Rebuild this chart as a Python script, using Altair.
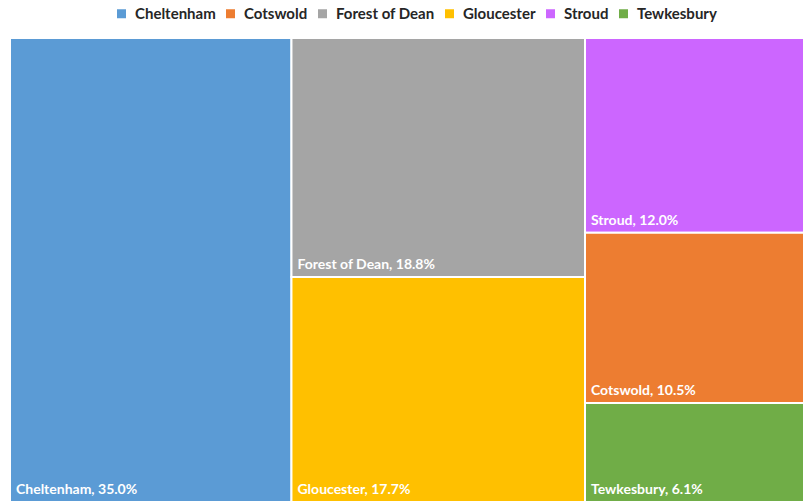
import altair as alt
import pandas as pd

# District shares (percent) of the county total
regions = ["Cheltenham", "Cotswold", "Forest of Dean", "Gloucester", "Stroud", "Tewkesbury"]
shares = [35.0, 10.5, 18.8, 17.7, 12.0, 6.1]
# Treemap grouping: column index and top-to-bottom order within the column
column_of = [0, 2, 1, 1, 2, 2]
order_in_column = [0, 1, 0, 1, 0, 2]
palette = ["#5B9BD5", "#ED7D31", "#A5A5A5", "#FFC000", "#CC66FF", "#70AD47"]

# Slice-and-dice layout: columns sized by their total share, cells stacked by share
df = pd.DataFrame({"region": regions, "share": shares,
                   "col": column_of, "pos": order_in_column})
total = df["share"].sum()
col_tot = df.groupby("col")["share"].sum().sort_index()
col_start = col_tot.cumsum() - col_tot
df = df.sort_values(["col", "pos"]).reset_index(drop=True)
df["x0"] = df["col"].map(col_start)
df["x1"] = df["x0"] + df["col"].map(col_tot)
df["y0"] = df.groupby("col")["share"].cumsum() - df["share"]
df["y1"] = df["y0"] + df["share"]
df["y0"] = df["y0"] / df["col"].map(col_tot)
df["y1"] = df["y1"] / df["col"].map(col_tot)
df["label"] = df["region"] + ", " + df["share"].map(lambda v: f"{v:.1f}%")

# The treemap runs past the right edge of the visible frame
W, H = 793, 464
full_w = 805
xs = alt.Scale(domain=[0, total * W / full_w], nice=False, zero=False)
ys = alt.Scale(domain=[0, 1], reverse=True, nice=False)

base = alt.Chart(df)

cells = base.mark_rect(stroke="white", strokeWidth=2, clip=True).encode(
    x=alt.X("x0:Q", scale=xs, axis=None),
    x2="x1:Q",
    y=alt.Y("y0:Q", scale=ys, axis=None),
    y2="y1:Q",
    color=alt.Color(
        "region:N",
        scale=alt.Scale(domain=regions, range=palette),
        legend=alt.Legend(
            title=None, orient="none", direction="horizontal",
            legendX=104, legendY=-32, padding=0,
            symbolType="square", symbolSize=81, symbolStrokeWidth=0,
            labelFont="Lato", labelFontWeight="bold", labelFontSize=15,
            labelColor="#262626", labelOffset=6, columnPadding=7,
        ),
    ),
)

labels = base.mark_text(
    align="left", baseline="alphabetic", dx=6, dy=-8,
    font="Lato", fontWeight="bold", fontSize=14, color="white",
).encode(
    x=alt.X("x0:Q", scale=xs),
    y=alt.Y("y1:Q", scale=ys),
    text="label:N",
)

chart = (
    alt.layer(cells, labels)
    .properties(width=W, height=H,
                padding={"left": 10, "top": 38, "right": 0, "bottom": 0},
                autosize=alt.AutoSizeParams(type="none"))
    .configure_view(stroke=None)
    .configure(background="white")
)

chart.save("out.html", embed_options={"renderer": "svg", "actions": False})
